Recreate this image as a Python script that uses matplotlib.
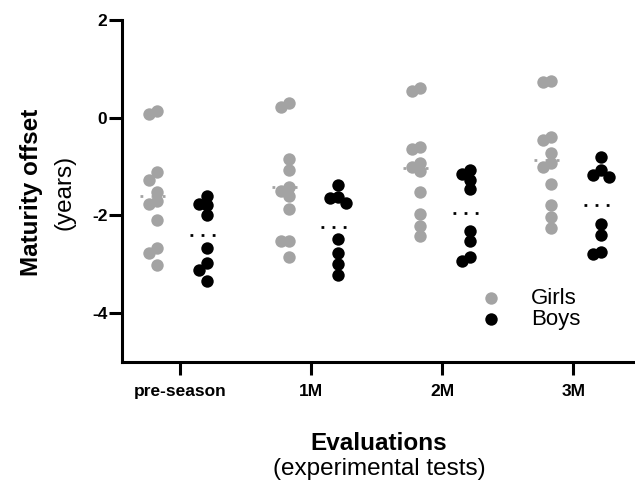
import numpy as np
import matplotlib
matplotlib.use("Agg")
import matplotlib.pyplot as plt

plt.rcParams['font.family'] = ['Liberation Sans', 'DejaVu Sans']
plt.rcParams['axes.unicode_minus'] = False

# maturity offset (years)
evaluations = ["pre-season", "1M", "2M", "3M"]
girls = [
    [0.13, 0.08, -1.12, -1.28, -1.53, -1.71, -1.76, -2.10, -2.67, -2.76, -3.01],
    [0.30, 0.22, -0.85, -1.07, -1.41, -1.51, -1.60, -1.87, -2.53, -2.53, -2.85],
    [0.61, 0.54, -0.60, -0.64, -0.93, -1.01, -1.10, -1.53, -1.97, -2.21, -2.42],
    [0.76, 0.74, -0.40, -0.46, -0.72, -0.93, -1.00, -1.35, -1.78, -2.03, -2.26],
]
boys = [
    [-1.60, -1.76, -1.78, -2.00, -2.66, -2.98, -3.11, -3.34],
    [-1.37, -1.63, -1.65, -1.75, -2.48, -2.76, -2.99, -3.22],
    [-1.07, -1.15, -1.27, -1.45, -2.32, -2.53, -2.85, -2.94],
    [-0.81, -1.07, -1.17, -1.22, -2.17, -2.40, -2.74, -2.79],
]

GIRL_COL = "#a3a3a3"
BOY_COL = "black"
PX_X = 131.3   # pixels per category unit
PX_Y = 48.8    # pixels per year


def swarm(center, values, step=8, min_dist=8):
    """simple swarm: push points sideways until they stop overlapping too much"""
    order = np.argsort(values)[::-1]
    placed = []
    xs = np.zeros(len(values))
    for i in order:
        y = values[i] * PX_Y
        for k in [0, -1, 1, -2, 2, -3, 3]:
            x = k * step
            if all(np.hypot(x - px, y - py) >= min_dist for px, py in placed):
                break
        placed.append((x, y))
        xs[i] = center + x / PX_X
    return xs


fig = plt.figure(figsize=(6.35, 4.94), dpi=100)
ax = fig.add_axes([122 / 635, 1 - 362 / 494, 1 - 122 / 635, 342 / 494])

for i in range(len(evaluations)):
    gx = swarm(i - 0.17, girls[i])
    bx = swarm(i + 0.21, boys[i])
    ax.scatter(gx, girls[i], s=80, color=GIRL_COL, linewidths=0, zorder=3,
               label="Girls" if i == 0 else None)
    ax.scatter(bx, boys[i], s=80, color=BOY_COL, linewidths=0, zorder=3,
               label="Boys" if i == 0 else None)
    ax.hlines(np.mean(girls[i]), i - 0.30, i - 0.06, colors=GIRL_COL,
              linestyles=(0, (1, 3)), linewidth=2, zorder=2)
    ax.hlines(np.mean(boys[i]), i + 0.08, i + 0.32, colors=BOY_COL,
              linestyles=(0, (1, 3)), linewidth=2, zorder=2)

ax.set_xlim(-0.44, 3.47)
ax.set_ylim(-5, 2)
ax.set_yticks([2, 0, -2, -4])
ax.set_xticks(range(len(evaluations)))
ax.set_xticklabels(evaluations)

for side in ["top", "right"]:
    ax.spines[side].set_visible(False)
for side in ["left", "bottom"]:
    ax.spines[side].set_linewidth(2.2)
ax.tick_params(length=9.5, width=2.2, labelsize=12.5)
ax.tick_params(axis="x", pad=6)
ax.tick_params(axis="y", pad=1)
for lbl in ax.get_xticklabels() + ax.get_yticklabels():
    lbl.set_fontweight("bold")

fig.text(0.050, 0.611, "Maturity offset", rotation=90, ha="center", va="center",
         fontsize=17.5, fontweight="bold")
fig.text(0.102, 0.611, "(years)", rotation=90, ha="center", va="center", fontsize=17.5)
fig.text(0.597, 0.103, "Evaluations", ha="center", va="center",
         fontsize=17.5, fontweight="bold")
fig.text(0.597, 0.051, "(experimental tests)", ha="center", va="center", fontsize=17.5)

ax.legend(loc="upper left", bbox_to_anchor=(478 / 635, 1 - 288 / 494),
          bbox_transform=fig.transFigure, frameon=False, fontsize=16,
          handletextpad=1.2, labelspacing=0.0, borderpad=0, borderaxespad=0,
          handlelength=1.2, markerscale=1.0)

fig.savefig("out.png", dpi=100)
